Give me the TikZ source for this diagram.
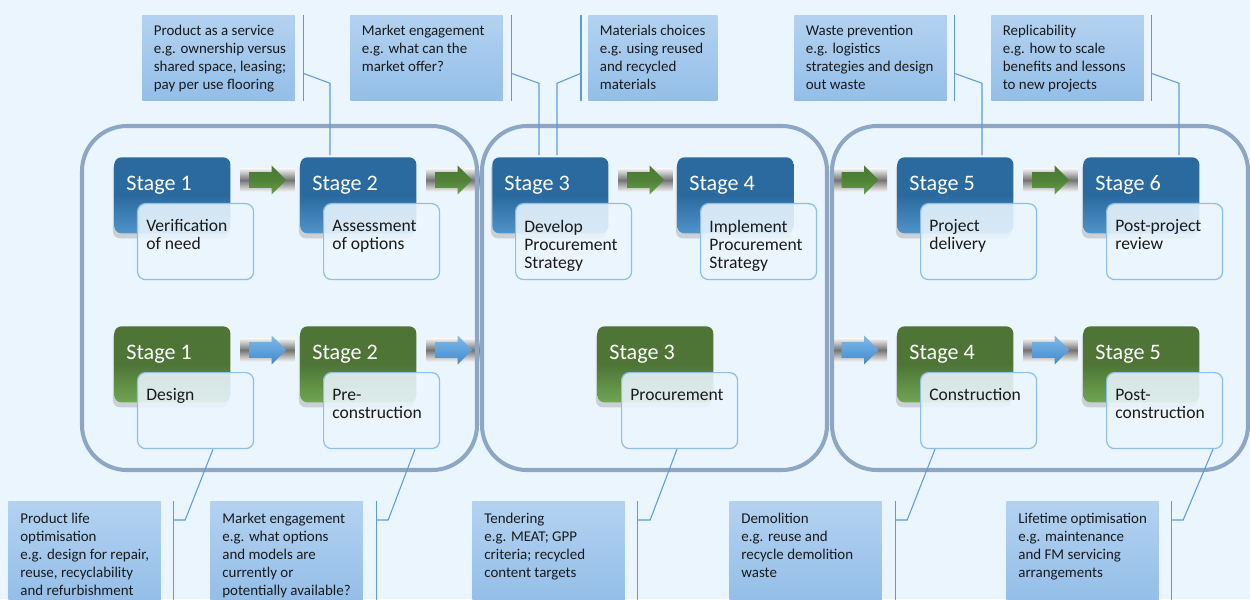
\documentclass[tikz,border=0pt]{standalone}
\usepackage{fontspec}
\setmainfont{Carlito}
\usetikzlibrary{shapes.arrows,positioning,fit,calc,shadows,backgrounds}
\definecolor{PageBg}{HTML}{EAF5FD}
\definecolor{PanelLine}{HTML}{8CA6C3}
\definecolor{StageBlue}{HTML}{2A6A9E}
\definecolor{StageBlueLt}{HTML}{5094CA}
\definecolor{StageGreen}{HTML}{4E7536}
\definecolor{StageGreenLt}{HTML}{70A653}
\definecolor{DescLine}{HTML}{8DBFE8}
\definecolor{NoteTop}{HTML}{B3D2F0}
\definecolor{NoteBot}{HTML}{94BEE8}
\definecolor{LinkBlue}{HTML}{5C9DD8}
\definecolor{ArrGreen}{HTML}{4B7B34}
\definecolor{ArrGreenLt}{HTML}{67A449}
\definecolor{ArrBlue}{HTML}{80BAEB}
\definecolor{ArrBlueDk}{HTML}{4189CB}
\definecolor{TextDark}{HTML}{1A1A1A}
\tikzset{
  % Stage box
  SB/.style={rectangle,rounded corners=4pt,anchor=north west,
             minimum width=2.32cm,minimum height=1.52cm,inner sep=0pt,
             drop shadow={shadow xshift=-0.03cm,shadow yshift=-0.1cm,opacity=0.3}},
  sB/.style={SB,top color=StageBlue,bottom color=StageBlueLt,middle color=StageBlue},
  sG/.style={SB,top color=StageGreen,bottom color=StageGreenLt,middle color=StageGreen},
  % Description box
  DB/.style={rectangle,rounded corners=4.5pt,anchor=north west,
             minimum width=2.32cm,minimum height=1.52cm,inner sep=0pt,
             fill=PageBg,fill opacity=0.88,draw=DescLine,line width=0.7pt},
  % Note box
  NB/.style={rectangle,anchor=north west,inner sep=0pt,
             minimum width=3.05cm,minimum height=1.7cm,
             top color=NoteTop,bottom color=NoteBot},
  % Texts
  ST/.style={inner sep=0pt,text=white,font=\fontsize{12.6}{15}\selectfont},
  DT/.style={inner sep=0pt,align=left,text=TextDark,font=\fontsize{10}{10.24}\selectfont},
  NT/.style={inner sep=0pt,align=left,text=TextDark,font=\fontsize{8.5}{10.24}\selectfont},
  % Flow arrows
  FA/.style={single arrow,draw=none,inner xsep=0pt,inner ysep=0.15cm,
             minimum height=0.74cm,minimum width=0.56cm,
             single arrow head extend=0.13cm},
  aG/.style={FA,top color=ArrGreen,bottom color=ArrGreenLt,middle color=ArrGreen!85!ArrGreenLt},
  aB/.style={FA,top color=ArrBlue,bottom color=ArrBlueDk},
  glow/.style={rectangle,inner xsep=0.16cm,inner ysep=0.06cm,
               top color=black!6,bottom color=black!6,middle color=black!55},
  % Panels and links
  panel/.style={draw=PanelLine,line width=2.3pt,rounded corners=0.9cm},
  link/.style={draw=LinkBlue,line width=0.6pt}
}
\begin{document}
\begin{tikzpicture}[x=0.02cm,y=-0.02cm]
  \begin{scope}[on background layer]
    \fill[PageBg] (0,0) rectangle (1250,599);
  \end{scope}
  \useasboundingbox (0,0) rectangle (1250,599);

  % panels
  \draw[panel] (82,126) rectangle (477,470);
  \draw[panel] (482,126) rectangle (827,470);
  \draw[panel] (832,126) rectangle (1248,470);

  % top notes
  \node[NB] (nt1) at (142,15) {};
  \node[NB] (nt2) at (350,15) {};
  \node[NB,minimum width=2.58cm] (nt3) at (588,15) {};
  \node[NB] (nt4) at (794,15) {};
  \node[NB] (nt5) at (991,15) {};
  \node[NT,below right=0.19cm and 0.23cm of nt1.north west] (nt1t)
    {Product as a service\\e.g. ownership versus\\shared space, leasing;\\pay per use flooring};
  \node[NT,below right=0.19cm and 0.23cm of nt2.north west] (nt2t)
    {Market engagement\\e.g. what can the\\market offer?};
  \node[NT,below right=0.19cm and 0.23cm of nt3.north west] (nt3t)
    {Materials choices\\e.g. using reused\\and recycled\\materials};
  \node[NT,below right=0.19cm and 0.23cm of nt4.north west] (nt4t)
    {Waste prevention\\e.g. logistics\\strategies and design\\out waste};
  \node[NT,below right=0.19cm and 0.23cm of nt5.north west] (nt5t)
    {Replicability\\e.g. how to scale\\benefits and lessons\\to new projects};

  % bottom notes
  \node[NB,minimum height=1.98cm] (nb1) at (8,501) {};
  \node[NB,minimum height=1.98cm] (nb2) at (210,501) {};
  \node[NB,minimum height=1.98cm] (nb3) at (472,501) {};
  \node[NB,minimum height=1.98cm] (nb4) at (729,501) {};
  \node[NB,minimum height=1.98cm] (nb5) at (1006,501) {};
  \node[NT,below right=0.23cm and 0.24cm of nb1.north west] (nb1t)
    {Product life\\optimisation\\e.g. design for repair,\\reuse, recyclability\\and refurbishment};
  \node[NT,below right=0.23cm and 0.24cm of nb2.north west] (nb2t)
    {Market engagement\\e.g. what options\\and models are\\currently or\\potentially available?};
  \node[NT,below right=0.23cm and 0.24cm of nb3.north west] (nb3t)
    {Tendering\\e.g. MEAT; GPP\\criteria; recycled\\content targets};
  \node[NT,below right=0.23cm and 0.24cm of nb4.north west] (nb4t)
    {Demolition\\e.g. reuse and\\recycle demolition\\waste};
  \node[NT,below right=0.23cm and 0.24cm of nb5.north west] (nb5t)
    {Lifetime optimisation\\e.g. maintenance\\and FM servicing\\arrangements};

  % stage boxes
  \node[sB] (st1) at (114,157) {};
  \node[sB] (st2) at (300,157) {};
  \node[sB] (st3) at (492,157) {};
  \node[sB] (st4) at (677,157) {};
  \node[sB] (st5) at (897,157) {};
  \node[sB] (st6) at (1083,157) {};
  \node[sG] (gs1) at (114,326) {};
  \node[sG] (gs2) at (300,326) {};
  \node[sG] (gs3) at (597,326) {};
  \node[sG] (gs4) at (897,326) {};
  \node[sG] (gs5) at (1083,326) {};

  % link anchors
  \coordinate (nt1j) at ($(nt1.north east)!0.68!(nt1.south east)+(8,0)$);
  \coordinate (nt2j) at ($(nt2.north east)!0.68!(nt2.south east)+(8,0)$);
  \coordinate (nt3j) at ($(nt3.north west)!0.68!(nt3.south west)+(-7,0)$);
  \coordinate (nt4j) at ($(nt4.north east)!0.68!(nt4.south east)+(7,0)$);
  \coordinate (nt5j) at ($(nt5.north east)!0.68!(nt5.south east)+(7,0)$);
  \coordinate (st2t) at ($(st2.north west)+(30,-2)$);
  \coordinate (st3t) at ($(st3.north west)+(47,-2)$);
  \coordinate (st3u) at ($(st3.north west)+(65,-2)$);
  \coordinate (st5t) at ($(st5.north west)+(85,-2)$);
  \coordinate (st6t) at ($(st6.north west)+(96,-2)$);
  \coordinate (nb1j) at ($(nb1.north east)+(12,19)$);
  \coordinate (nb2j) at ($(nb2.north east)+(13,19)$);
  \coordinate (nb3j) at ($(nb3.north east)+(12,19)$);
  \coordinate (nb4j) at ($(nb4.north east)+(13,19)$);
  \coordinate (nb5j) at ($(nb5.north east)+(12,19)$);

  % description boxes
  \node[DB,below right=0.92cm and 0.46cm of st1.north west] (sd1) {};
  \node[DB,below right=0.92cm and 0.46cm of st2.north west] (sd2) {};
  \node[DB,below right=0.92cm and 0.46cm of st3.north west] (sd3) {};
  \node[DB,below right=0.92cm and 0.46cm of st4.north west] (sd4) {};
  \node[DB,below right=0.92cm and 0.46cm of st5.north west] (sd5) {};
  \node[DB,below right=0.92cm and 0.46cm of st6.north west] (sd6) {};
  \node[DB,below right=0.92cm and 0.46cm of gs1.north west] (gd1) {};
  \node[DB,below right=0.92cm and 0.46cm of gs2.north west] (gd2) {};
  \node[DB,below right=0.92cm and 0.48cm of gs3.north west] (gd3) {};
  \node[DB,below right=0.92cm and 0.46cm of gs4.north west] (gd4) {};
  \node[DB,below right=0.92cm and 0.46cm of gs5.north west] (gd5) {};

  % links: top
  \draw[link] ($(nt1.north east)+(8,0)$) -- ($(nt1.south east)+(8,0)$);
  \draw[link] (nt1j) -- ($(nt1j -| st2t)+(0,10)$) -- (st2t);
  \draw[link] ($(nt2.north east)+(8,0)$) -- ($(nt2.south east)+(8,0)$);
  \draw[link] (nt2j) -- ($(nt2j -| st3t)+(0,10)$) -- (st3t);
  \draw[link] ($(nt3.north west)+(-7,0)$) -- ($(nt3.south west)+(-7,0)$);
  \draw[link] (nt3j) -- ($(nt3j -| st3u)+(0,10)$) -- (st3u);
  \draw[link] ($(nt4.north east)+(7,0)$) -- ($(nt4.south east)+(7,0)$);
  \draw[link] (nt4j) -- ($(nt4j -| st5t)+(0,10)$) -- (st5t);
  \draw[link] ($(nt5.north east)+(7,0)$) -- ($(nt5.south east)+(7,0)$);
  \draw[link] (nt5j) -- ($(nt5j -| st6t)+(0,10)$) -- (st6t);

  % links: bottom
  \draw[link] ($(nb1.north east)+(12,0)$) -- ($(nb1.south east)+(12,0)$);
  \draw[link] (nb1j) -- ++(12,0) -- ($(gd1.south west)+(76,0)$);
  \draw[link] ($(nb2.north east)+(13,0)$) -- ($(nb2.south east)+(13,0)$);
  \draw[link] (nb2j) -- ++(12,0) -- ($(gd2.south west)+(92,0)$);
  \draw[link] ($(nb3.north east)+(12,0)$) -- ($(nb3.south east)+(12,0)$);
  \draw[link] (nb3j) -- ++(13,0) -- ($(gd3.south west)+(56,0)$);
  \draw[link] ($(nb4.north east)+(13,0)$) -- ($(nb4.south east)+(13,0)$);
  \draw[link] (nb4j) -- ++(12,0) -- ($(gd4.south west)+(15,0)$);
  \draw[link] ($(nb5.north east)+(12,0)$) -- ($(nb5.south east)+(12,0)$);
  \draw[link] (nb5j) -- ++(12,0) -- ($(gd5.south west)+(107,0)$);

  % stage labels
  \node[ST,below right=0.37cm and 0.24cm of st1.north west] (st1l) {Stage 1};
  \node[ST,below right=0.37cm and 0.24cm of st2.north west] (st2l) {Stage 2};
  \node[ST,below right=0.37cm and 0.24cm of st3.north west] (st3l) {Stage 3};
  \node[ST,below right=0.37cm and 0.24cm of st4.north west] (st4l) {Stage 4};
  \node[ST,below right=0.37cm and 0.24cm of st5.north west] (st5l) {Stage 5};
  \node[ST,below right=0.37cm and 0.24cm of st6.north west] (st6l) {Stage 6};
  \node[ST,below right=0.37cm and 0.24cm of gs1.north west] (gs1l) {Stage 1};
  \node[ST,below right=0.37cm and 0.24cm of gs2.north west] (gs2l) {Stage 2};
  \node[ST,below right=0.37cm and 0.24cm of gs3.north west] (gs3l) {Stage 3};
  \node[ST,below right=0.37cm and 0.24cm of gs4.north west] (gs4l) {Stage 4};
  \node[ST,below right=0.37cm and 0.24cm of gs5.north west] (gs5l) {Stage 5};

  % description texts
  \node[DT,below right=0.33cm and 0.18cm of sd1.north west] (sd1t) {Verification\\of need};
  \node[DT,below right=0.33cm and 0.18cm of sd2.north west] (sd2t) {Assessment\\of options};
  \node[DT,below right=0.33cm and 0.18cm of sd3.north west] (sd3t) {Develop\\Procurement\\Strategy};
  \node[DT,below right=0.33cm and 0.18cm of sd4.north west] (sd4t) {Implement\\Procurement\\Strategy};
  \node[DT,below right=0.33cm and 0.18cm of sd5.north west] (sd5t) {Project\\delivery};
  \node[DT,below right=0.33cm and 0.18cm of sd6.north west] (sd6t) {Post-project\\review};
  \node[DT,below right=0.33cm and 0.18cm of gd1.north west] (gd1t) {Design};
  \node[DT,below right=0.33cm and 0.18cm of gd2.north west] (gd2t) {Pre-\\construction};
  \node[DT,below right=0.33cm and 0.18cm of gd3.north west] (gd3t) {Procurement};
  \node[DT,below right=0.33cm and 0.18cm of gd4.north west] (gd4t) {Construction};
  \node[DT,below right=0.33cm and 0.18cm of gd5.north west] (gd5t) {Post-\\construction};

  % flow arrows
  \node[aG,right=0.36cm of st1.north east,yshift=-0.46cm] (fa1) {};
  \node[aG,right=0.36cm of st2.north east,yshift=-0.46cm] (fa2) {};
  \node[aG,right=0.36cm of st3.north east,yshift=-0.46cm] (fa3) {};
  \node[aG,left=0.36cm of st5.north west,yshift=-0.46cm] (fa4) {};
  \node[aG,right=0.36cm of st5.north east,yshift=-0.46cm] (fa5) {};
  \node[aB,right=0.36cm of gs1.north east,yshift=-0.48cm] (fb1) {};
  \node[aB,right=0.36cm of gs2.north east,yshift=-0.48cm] (fb2) {};
  \node[aB,left=0.36cm of gs4.north west,yshift=-0.48cm] (fb3) {};
  \node[aB,right=0.36cm of gs4.north east,yshift=-0.48cm] (fb4) {};
  \begin{scope}[on background layer]
    \node[glow,fit=(fa1)] (fa1g) {};
    \node[glow,fit=(fa2)] (fa2g) {};
    \node[glow,fit=(fa3)] (fa3g) {};
    \node[glow,fit=(fa4)] (fa4g) {};
    \node[glow,fit=(fa5)] (fa5g) {};
    \node[glow,fit=(fb1)] (fb1g) {};
    \node[glow,fit=(fb2)] (fb2g) {};
    \node[glow,fit=(fb3)] (fb3g) {};
    \node[glow,fit=(fb4)] (fb4g) {};
  \end{scope}
\end{tikzpicture}
\end{document}
